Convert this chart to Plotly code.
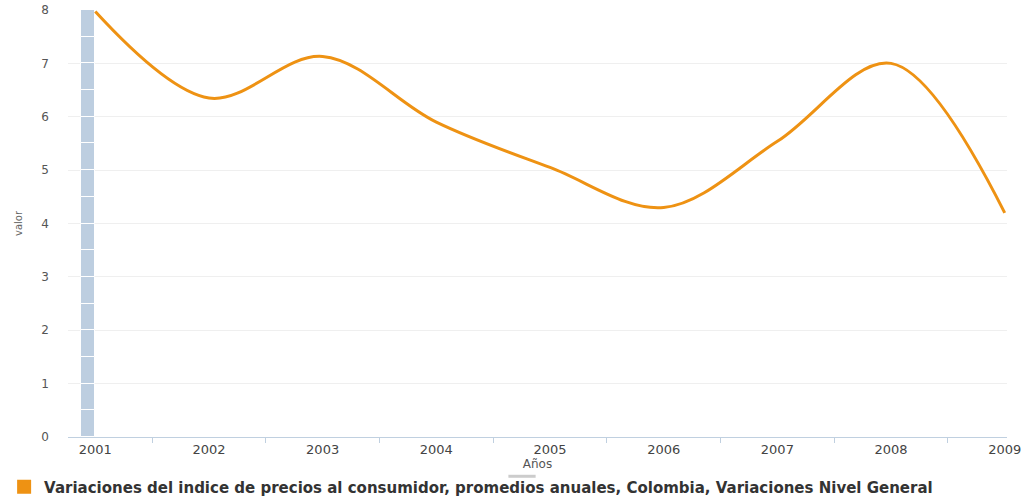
import plotly.graph_objects as go

years = [2001, 2002, 2003, 2004, 2005, 2006, 2007, 2008, 2009]
values = [7.97, 6.35, 7.13, 5.90, 5.05, 4.30, 5.54, 7.00, 4.20]
series_name = ("Variaciones del indice de precios al consumidor, promedios anuales, "
               "Colombia, Variaciones Nivel General")
band_year = 2001
band_segments = [0.5] * 16

LINE = "#EE9213"
BAND = "#BDCEE0"

fig = go.Figure()

# highlighted band at the first year
fig.add_trace(go.Bar(
    x=[band_year] * len(band_segments), y=band_segments,
    width=0.125, offset=-0.125,
    marker=dict(color=BAND, line=dict(color="white", width=1)),
    showlegend=False, hoverinfo="skip",
))

fig.add_trace(go.Scatter(
    x=years, y=values, mode="lines",
    line=dict(color=LINE, width=3, shape="spline", smoothing=1.0),
    showlegend=False,
))

# legend entry
fig.add_trace(go.Scatter(
    x=[None], y=[None], mode="markers", name=series_name,
    marker=dict(symbol="square", size=14, color=LINE),
))

fig.update_layout(
    width=1030, height=497,
    margin=dict(l=68, r=23, t=10, b=60, autoexpand=False),
    paper_bgcolor="white", plot_bgcolor="white",
    barmode="stack", bargap=0,
    font=dict(family="DejaVu Sans", size=12, color="#555"),
    showlegend=True,
    legend=dict(
        orientation="h", xref="container", yref="container",
        x=0.004, xanchor="left", y=0.020, yanchor="middle",
        font=dict(family="DejaVu Sans", size=15, color="#333", weight="bold"),
        itemwidth=30, bgcolor="rgba(0,0,0,0)",
    ),
    xaxis=dict(
        range=[2000.76, 2009.02], tickvals=years, ticktext=[str(y) for y in years],
        showgrid=False, zeroline=False, showline=True, linecolor="#C0D0E0", linewidth=1,
        ticks="", tickfont=dict(size=13, color="#444"), automargin=False,
        minor=dict(tickmode="array", tickvals=[y + 0.5 for y in years[:-1]],
                   ticks="outside", ticklen=5, tickcolor="#C0D0E0", showgrid=False),
        title=dict(text="Años", font=dict(size=12, color="#555"), standoff=3),
        fixedrange=True,
    ),
    yaxis=dict(
        range=[0, 8], dtick=1, showgrid=True, gridcolor="#EFEFEF", gridwidth=1,
        zeroline=False, showline=False, ticks="", ticklabelstandoff=18,
        tickfont=dict(size=12, color="#555"), automargin=False,
        title=dict(text="valor", font=dict(size=10, color="#666"), standoff=16),
    ),
)

fig.add_shape(type="line", xref="paper", yref="paper",
              x0=0.469, x1=0.498, y0=-0.092, y1=-0.092,
              line=dict(color="#CCCCCC", width=3))

fig.write_html("out.html")
